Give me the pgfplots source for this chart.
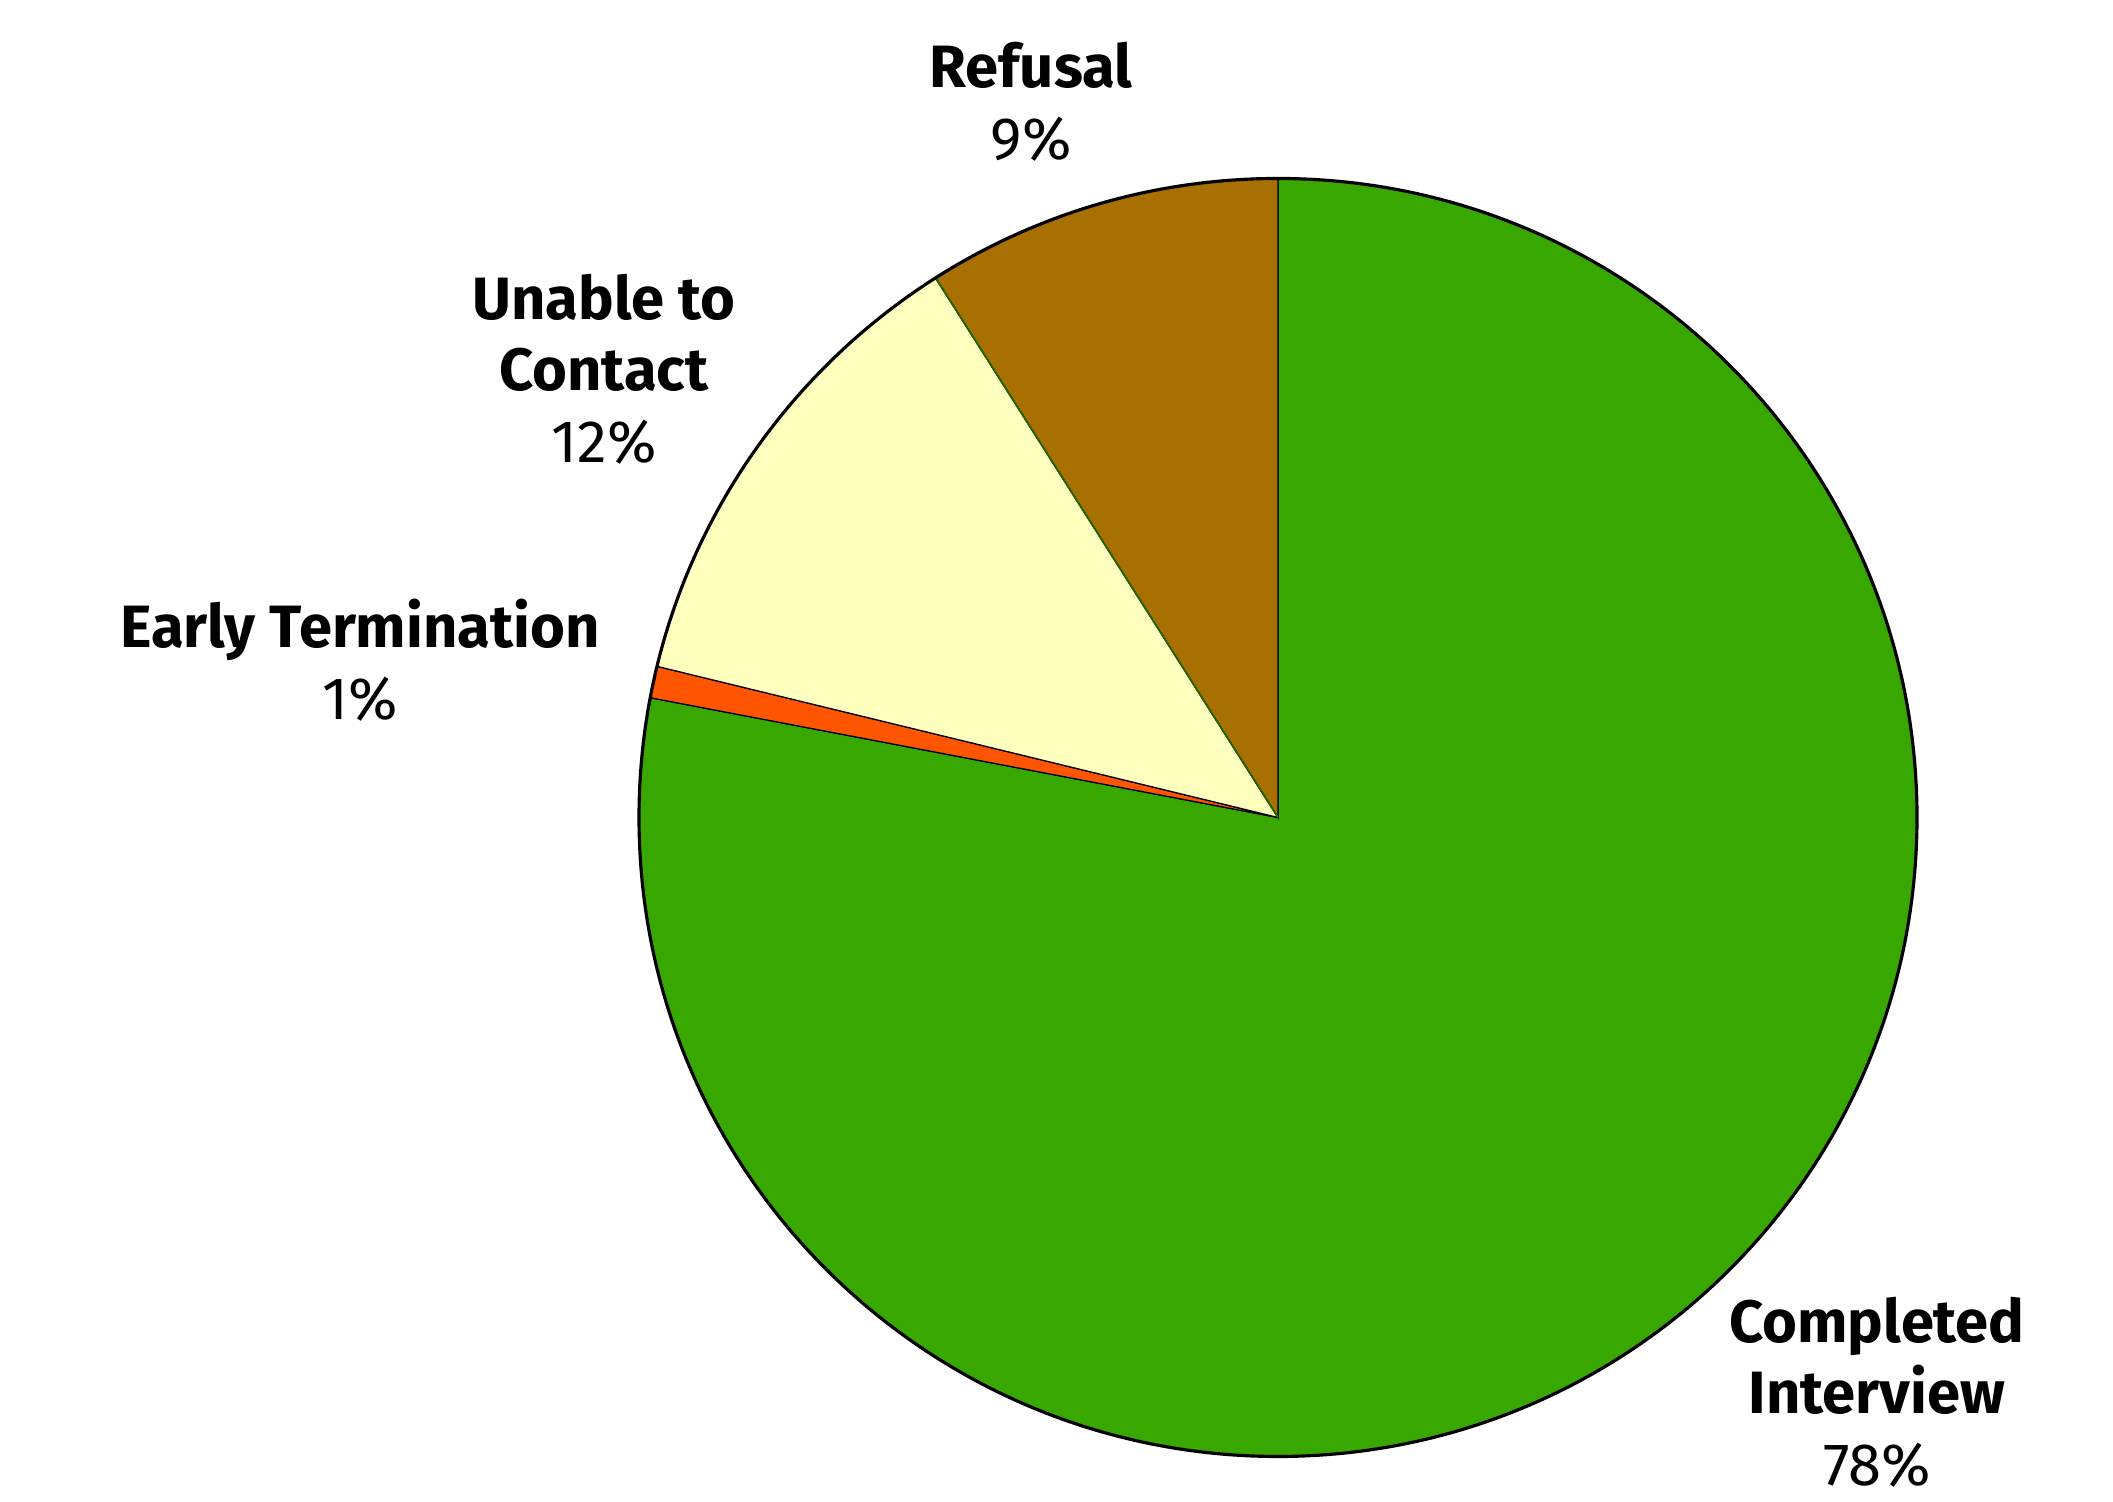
\documentclass[border=0pt]{standalone}
\usepackage{pgfplots}
\pgfplotsset{compat=1.18}
\usepackage{fontspec}
\setmainfont{Fira Sans}

\definecolor{cgreen}{RGB}{56,168,0}
\definecolor{corange}{RGB}{255,85,0}
\definecolor{cyellow}{RGB}{255,255,190}
\definecolor{cbrown}{RGB}{168,112,0}

% slice shares in percent, clockwise from 12 o'clock
\def\vComp{78.0}
\def\vEarly{0.8}
\def\vUnable{12.2}
\def\vRefusal{9.0}
\pgfmathsetmacro\aA{90}
\pgfmathsetmacro\aB{\aA-3.6*\vComp}
\pgfmathsetmacro\aC{\aB-3.6*\vEarly}
\pgfmathsetmacro\aD{\aC-3.6*\vUnable}
\pgfmathsetmacro\aE{\aD-3.6*\vRefusal}

\begin{document}
\begin{tikzpicture}
\begin{axis}[
  scale only axis,
  width=21.13cm, height=15.02cm,
  xmin=0, xmax=2113, ymin=0, ymax=1502,
  hide axis,
  clip=false,
]
\path (axis cs:0,0) rectangle (axis cs:2113,1502);
\def\r{6.39cm}
\filldraw[fill=cgreen, line width=0.35pt] (axis cs:1278,684.5) -- ++(\aA:\r) arc[start angle=\aA, end angle=\aB, radius=\r] -- cycle;
\filldraw[fill=corange, line width=0.35pt] (axis cs:1278,684.5) -- ++(\aB:\r) arc[start angle=\aB, end angle=\aC, radius=\r] -- cycle;
\filldraw[fill=cyellow, line width=0.35pt] (axis cs:1278,684.5) -- ++(\aC:\r) arc[start angle=\aC, end angle=\aD, radius=\r] -- cycle;
\filldraw[fill=cbrown, line width=0.35pt] (axis cs:1278,684.5) -- ++(\aD:\r) arc[start angle=\aD, end angle=\aE, radius=\r] -- cycle;
\draw[cgreen!60!black, line width=0.5pt] (axis cs:1278,684.5) -- ++(\aD:\r);
\draw[line width=0.9pt] (axis cs:1278,684.5) circle[radius=\r];

\tikzset{lbl/.style={align=center, font=\fontsize{17}{20.4}\selectfont, inner sep=0pt}}
\node[lbl, anchor=center] at (axis cs:1031,1400) {\bfseries Refusal\\ 9\%};
\node[lbl, anchor=center] at (axis cs:604,1133) {\bfseries Unable to\\\bfseries Contact\\ 12\%};
\node[lbl, anchor=center] at (axis cs:360,842) {\bfseries Early Termination\\ 1\%};
\node[lbl, anchor=center] at (axis cs:1877,110) {\bfseries Completed\\\bfseries Interview\\ 78\%};
\end{axis}
\end{tikzpicture}
\end{document}
